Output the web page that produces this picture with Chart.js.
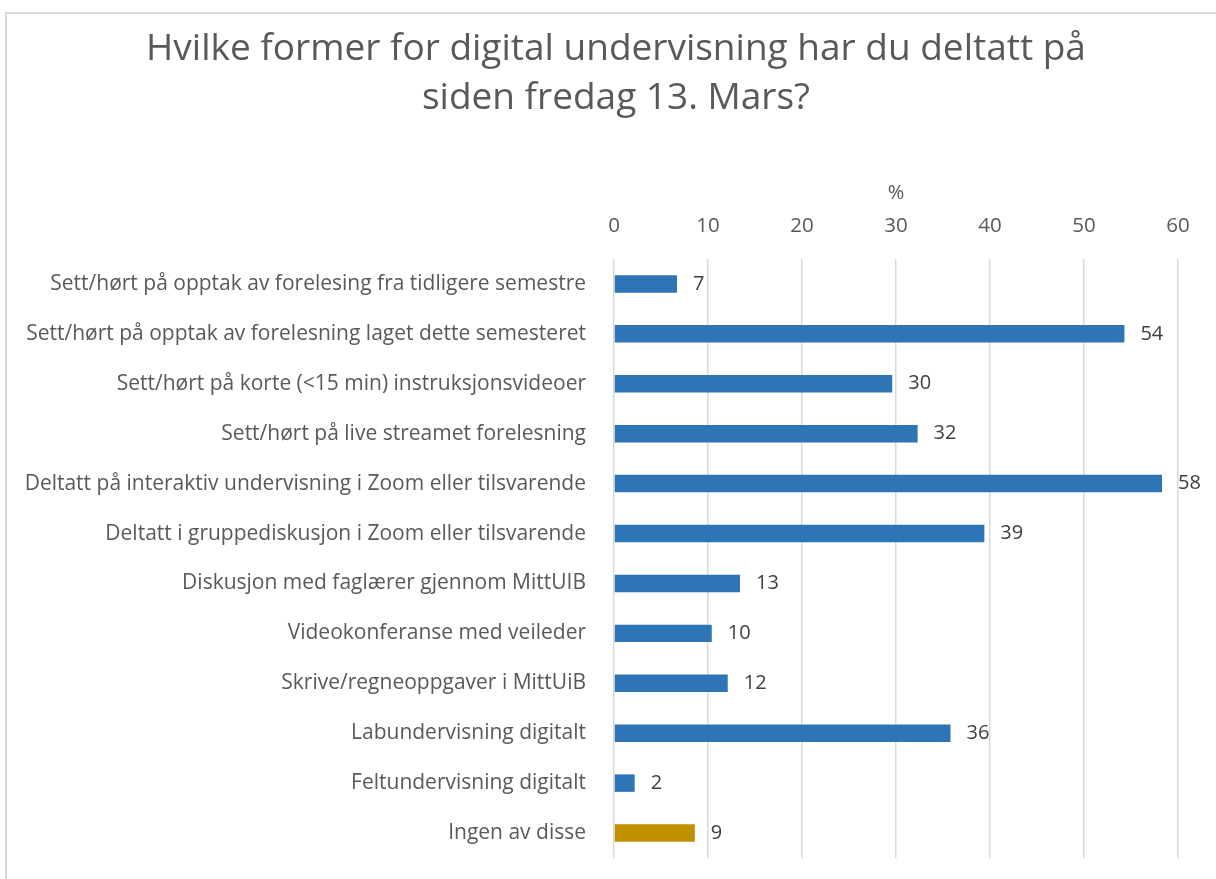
<!DOCTYPE html>
<html>
<head>
<meta charset="utf-8">
<script src="https://cdn.jsdelivr.net/npm/chart.js@4.4.1/dist/chart.umd.min.js"></script>
<style>
  html, body { margin: 0; padding: 0; background: #fff; }
  #wrap { position: relative; width: 1216px; height: 879px; }
  #frame { position: absolute; left: 5px; top: 12px; right: -2px; bottom: -2px; border-top: 2px solid #d9d9d9; border-left: 2px solid #d9d9d9; pointer-events: none; }
  canvas { position: absolute; left: 0; top: 0; }
</style>
</head>
<body>
<div id="wrap">
  <canvas id="c" width="1216" height="879"></canvas>
  <div id="frame"></div>
</div>
<script>
const categories = [
  "Sett/hørt på opptak av forelesing fra tidligere semestre",
  "Sett/hørt på opptak av forelesning laget dette semesteret",
  "Sett/hørt på korte (<15 min) instruksjonsvideoer",
  "Sett/hørt på live streamet forelesning",
  "Deltatt på interaktiv undervisning i Zoom eller tilsvarende",
  "Deltatt i gruppediskusjon i Zoom eller tilsvarende",
  "Diskusjon med faglærer gjennom MittUIB",
  "Videokonferanse med veileder",
  "Skrive/regneoppgaver i MittUiB",
  "Labundervisning digitalt",
  "Feltundervisning digitalt",
  "Ingen av disse"
];
const values = [6.7, 54.3, 29.6, 32.3, 58.3, 39.4, 13.4, 10.4, 12.1, 35.8, 2.2, 8.6];
const valueLabels = ["7", "54", "30", "32", "58", "39", "13", "10", "12", "36", "2", "9"];
const barColors = ["#2E75B6","#2E75B6","#2E75B6","#2E75B6","#2E75B6","#2E75B6","#2E75B6","#2E75B6","#2E75B6","#2E75B6","#2E75B6","#BF9000"];
const xTicks = [0, 10, 20, 30, 40, 50, 60];
const titleLines = ["Hvilke former for digital undervisning har du deltatt på", "siden fredag 13. Mars?"];
const axisTitle = "%";

const FONT = "'Open Sans', Lato, sans-serif";

const valueLabelPlugin = {
  id: 'valueLabels',
  afterDatasetsDraw(chart) {
    const ctx = chart.ctx;
    const meta = chart.getDatasetMeta(0);
    ctx.save();
    ctx.font = "20px " + FONT;
    ctx.fillStyle = "#404040";
    ctx.textAlign = "left";
    ctx.textBaseline = "middle";
    meta.data.forEach((bar, i) => {
      ctx.fillText(valueLabels[i], bar.x + 16, bar.y);
    });
    ctx.restore();
  }
};

new Chart(document.getElementById('c'), {
  type: 'bar',
  data: {
    labels: categories,
    datasets: [{
      data: values,
      backgroundColor: barColors,
      borderWidth: 0,
      barPercentage: 0.35,
      categoryPercentage: 1.0
    }]
  },
  plugins: [valueLabelPlugin],
  options: {
    indexAxis: 'y',
    responsive: false,
    animation: false,
    devicePixelRatio: 1,
    layout: { padding: { left: 16, right: 0, top: 0, bottom: 21 } },
    plugins: {
      legend: { display: false },
      tooltip: { enabled: false },
      title: {
        display: true,
        text: titleLines,
        color: "#595959",
        font: { family: FONT, size: 37, weight: 'normal', lineHeight: 1.324 },
        padding: { top: 25, bottom: 0 }
      }
    },
    scales: {
      x: {
        position: 'top',
        min: 0,
        max: 60,
        afterBuildTicks(scale) { scale.ticks = xTicks.map(v => ({ value: v })); },
        afterFit(scale) {
          scale.height = 136;
          scale.paddingLeft = 0;
          scale.paddingRight = 38;
        },
        ticks: {
          color: "#595959",
          font: { family: FONT, size: 20.5 },
          padding: 21,
          maxRotation: 0
        },
        grid: { color: "#d9d9d9", lineWidth: 1.5, drawTicks: false },
        border: { display: false },
        title: {
          display: true,
          text: axisTitle,
          color: "#595959",
          font: { family: FONT, size: 20 },
          padding: { top: 58, bottom: 0 }
        }
      },
      y: {
        afterFit(scale) {
          scale.width = 598;
          scale.paddingTop = 0;
          scale.paddingBottom = 0;
        },
        ticks: {
          color: "#595959",
          font: { family: FONT, size: 21 },
          padding: 28,
          autoSkip: false
        },
        grid: { display: false, drawTicks: false },
        border: { display: false }
      }
    }
  }
});
</script>
</body>
</html>
